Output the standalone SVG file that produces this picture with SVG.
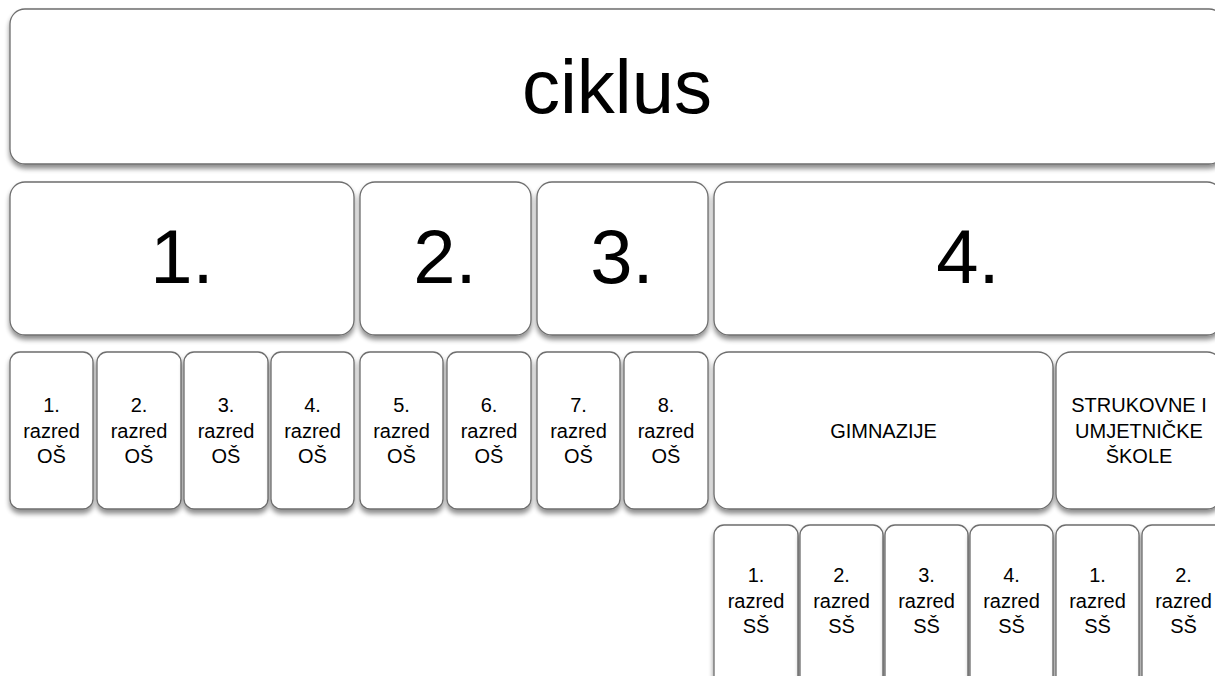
<svg xmlns="http://www.w3.org/2000/svg" width="1215" height="676" viewBox="0 0 1215 676">
<defs>
<filter id="sh" x="-10%" y="-10%" width="120%" height="130%">
<feGaussianBlur in="SourceAlpha" stdDeviation="2.5"/>
<feOffset dx="0" dy="4" result="b"/>
<feComponentTransfer><feFuncA type="linear" slope="0.45"/></feComponentTransfer>
<feMerge><feMergeNode/><feMergeNode in="SourceGraphic"/></feMerge>
</filter>
</defs>
<style>
rect{fill:#ffffff;stroke:#6e6e6e;stroke-width:1.3;filter:url(#sh)}
text{font-family:"Liberation Sans",Arial,sans-serif;fill:#000;text-anchor:middle}
.big{font-size:76px}
.sm{font-size:20px}
</style>
<rect x="0" y="0" width="1215" height="676" style="fill:#fff;stroke:none;filter:none"/>
<g id="connectors"/>
<g id="ciklus"><rect x="10" y="9" width="1214" height="155" rx="15"/><text class="big" x="617" y="113">ciklus</text></g>
<g id="c1"><rect x="10" y="182" width="344" height="153" rx="15"/><text class="big" x="182" y="283">1.</text></g>
<g id="c2"><rect x="360" y="182" width="171" height="153" rx="15"/><text class="big" x="445" y="283">2.</text></g>
<g id="c3"><rect x="537" y="182" width="171" height="153" rx="15"/><text class="big" x="622" y="283">3.</text></g>
<g id="c4"><rect x="714" y="182" width="508" height="153" rx="15"/><text class="big" x="968" y="283">4.</text></g>
<g id="os1"><rect x="10" y="352" width="83" height="157" rx="10"/><text class="sm"><tspan x="51.5" y="412">1.</tspan><tspan x="51.5" y="438">razred</tspan><tspan x="51.5" y="463">OŠ</tspan></text></g>
<g id="os2"><rect x="97" y="352" width="84" height="157" rx="10"/><text class="sm"><tspan x="139" y="412">2.</tspan><tspan x="139" y="438">razred</tspan><tspan x="139" y="463">OŠ</tspan></text></g>
<g id="os3"><rect x="184" y="352" width="84" height="157" rx="10"/><text class="sm"><tspan x="226" y="412">3.</tspan><tspan x="226" y="438">razred</tspan><tspan x="226" y="463">OŠ</tspan></text></g>
<g id="os4"><rect x="271" y="352" width="83" height="157" rx="10"/><text class="sm"><tspan x="312.5" y="412">4.</tspan><tspan x="312.5" y="438">razred</tspan><tspan x="312.5" y="463">OŠ</tspan></text></g>
<g id="os5"><rect x="360" y="352" width="83" height="157" rx="10"/><text class="sm"><tspan x="401.5" y="412">5.</tspan><tspan x="401.5" y="438">razred</tspan><tspan x="401.5" y="463">OŠ</tspan></text></g>
<g id="os6"><rect x="447" y="352" width="84" height="157" rx="10"/><text class="sm"><tspan x="489" y="412">6.</tspan><tspan x="489" y="438">razred</tspan><tspan x="489" y="463">OŠ</tspan></text></g>
<g id="os7"><rect x="537" y="352" width="83" height="157" rx="10"/><text class="sm"><tspan x="578.5" y="412">7.</tspan><tspan x="578.5" y="438">razred</tspan><tspan x="578.5" y="463">OŠ</tspan></text></g>
<g id="os8"><rect x="624" y="352" width="84" height="157" rx="10"/><text class="sm"><tspan x="666" y="412">8.</tspan><tspan x="666" y="438">razred</tspan><tspan x="666" y="463">OŠ</tspan></text></g>
<g id="gimnazije"><rect x="714" y="352" width="339" height="157" rx="15"/><text class="sm" x="883.5" y="438">GIMNAZIJE</text></g>
<g id="strukovne"><rect x="1056" y="352" width="166" height="157" rx="15"/><text class="sm"><tspan x="1139" y="412">STRUKOVNE I</tspan><tspan x="1139" y="438">UMJETNIČKE</tspan><tspan x="1139" y="463">ŠKOLE</tspan></text></g>
<g id="ss1"><rect x="714" y="525" width="84" height="170" rx="10"/><text class="sm"><tspan x="756" y="582">1.</tspan><tspan x="756" y="608">razred</tspan><tspan x="756" y="633">SŠ</tspan></text></g>
<g id="ss2"><rect x="800" y="525" width="83" height="170" rx="10"/><text class="sm"><tspan x="841.5" y="582">2.</tspan><tspan x="841.5" y="608">razred</tspan><tspan x="841.5" y="633">SŠ</tspan></text></g>
<g id="ss3"><rect x="885" y="525" width="83" height="170" rx="10"/><text class="sm"><tspan x="926.5" y="582">3.</tspan><tspan x="926.5" y="608">razred</tspan><tspan x="926.5" y="633">SŠ</tspan></text></g>
<g id="ss4"><rect x="970" y="525" width="83" height="170" rx="10"/><text class="sm"><tspan x="1011.5" y="582">4.</tspan><tspan x="1011.5" y="608">razred</tspan><tspan x="1011.5" y="633">SŠ</tspan></text></g>
<g id="sk1"><rect x="1056" y="525" width="83" height="170" rx="10"/><text class="sm"><tspan x="1097.5" y="582">1.</tspan><tspan x="1097.5" y="608">razred</tspan><tspan x="1097.5" y="633">SŠ</tspan></text></g>
<g id="sk2"><rect x="1142" y="525" width="83" height="170" rx="10"/><text class="sm"><tspan x="1183.5" y="582">2.</tspan><tspan x="1183.5" y="608">razred</tspan><tspan x="1183.5" y="633">SŠ</tspan></text></g>
</svg>
